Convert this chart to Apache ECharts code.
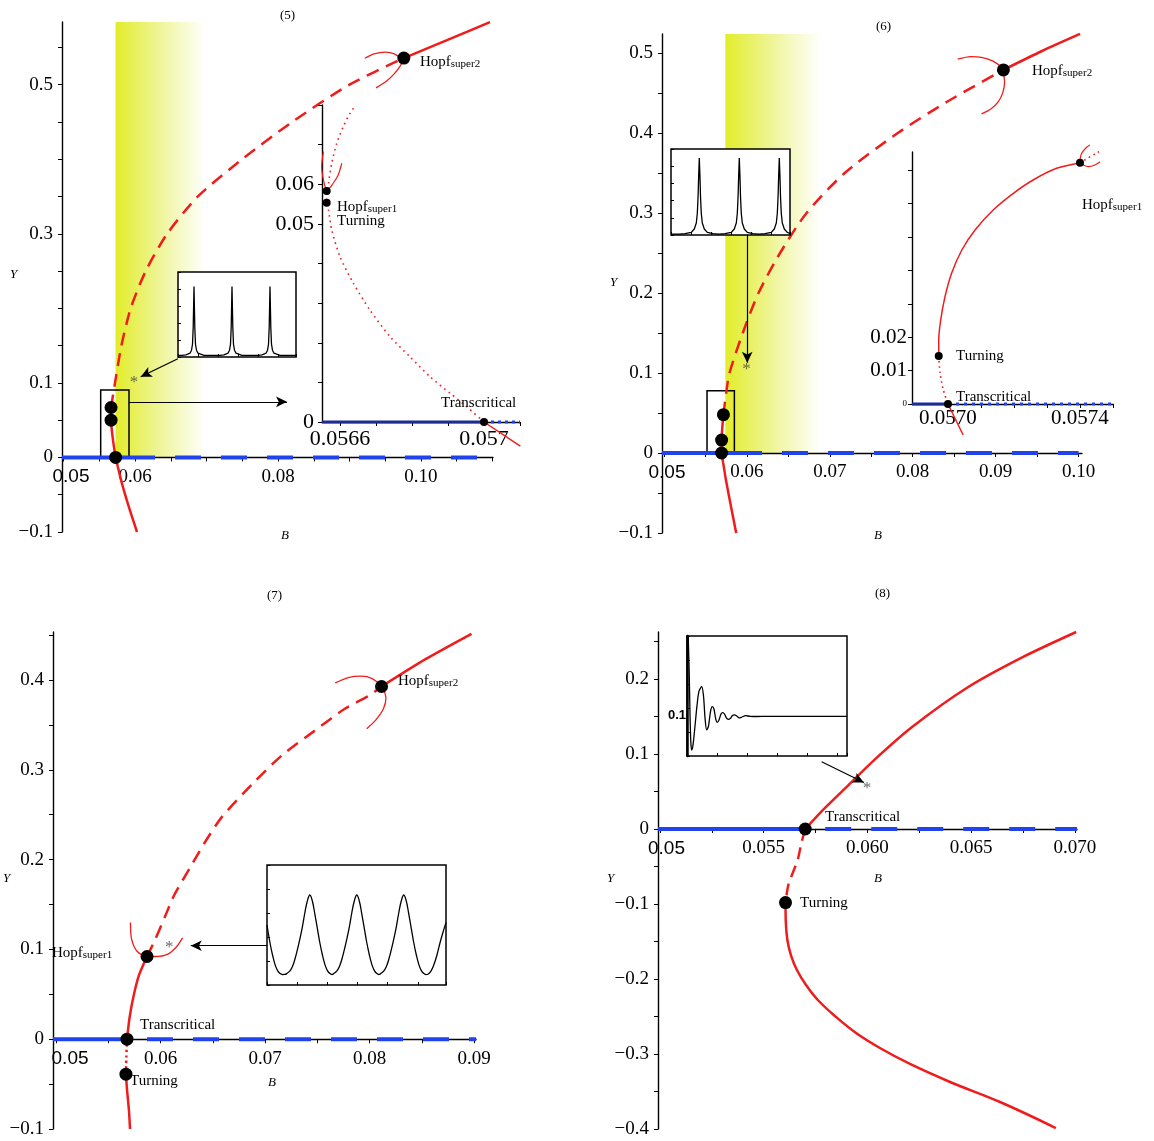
<!DOCTYPE html>
<html>
<head>
<meta charset="utf-8">
<script src="https://cdn.jsdelivr.net/npm/echarts@6/dist/echarts.min.js"></script>
<style>
html, body { margin: 0; background: #fff; }
#main { width: 1154px; height: 1141px; }
</style>
</head>
<body>
<div id="main"></div>
<script>
// ---------- panel (5) ----------
var p5TickX = [0.05, 0.055, 0.06, 0.065, 0.07, 0.075, 0.08, 0.085, 0.09, 0.095, 0.1, 0.105, 0.11];
var p5LabelX = [0.05, 0.06, 0.08, 0.1];
var p5TickY = [-0.1, -0.05, 0, 0.05, 0.1, 0.15, 0.2, 0.25, 0.3, 0.35, 0.4, 0.45, 0.5, 0.55];
var p5LabelY = [-0.1, 0, 0.1, 0.3, 0.5];
var p5Lower = [[0.05729, 0], [0.05759, -0.0121], [0.05821, -0.0361], [0.05925, -0.0698], [0.06028, -0.1]];
var p5Link = [[0.05729, 0], [0.05690, 0.025], [0.05665, 0.05], [0.05665, 0.067]];
var p5Dashed = [[0.05665, 0.067], [0.0572, 0.1], [0.0581, 0.15], [0.0594, 0.2], [0.0615, 0.25], [0.0645, 0.3],
  [0.0688, 0.35], [0.075, 0.4], [0.082, 0.45], [0.09, 0.5], [0.0976, 0.5356]];
var p5Upper = [[0.0976, 0.5356], [0.10364, 0.5597], [0.10965, 0.5839]];
var p5ArcUp = [[0.09214, 0.5354], [0.09343, 0.5412], [0.09499, 0.5436], [0.09628, 0.5412], [0.09733, 0.5341]];
var p5ArcLow = [[0.09371, 0.4956], [0.09524, 0.5052], [0.09628, 0.5148], [0.09706, 0.5244], [0.09748, 0.5342]];
var p5Points = [[0.05729, 0], [0.05665, 0.05], [0.05665, 0.067], [0.0976, 0.5356]];
var p5Band = [0.05728, 0.06986];
var p5Box = [0.0552, 0.05916, 0, 0.0905];
var p5Arrows = [[[0.05916, 0.0746], [0.08126, 0.0746]], [[0.06599, 0.1323], [0.0608, 0.1083]]];
var p5Star = [[0.05986, 0.1011]];
var p5Blue = [0.0628, 0.1084];

// zoomed inset of (5)
var i5TickX = [0.0566, 0.0567, 0.0568, 0.0569, 0.057, 0.0571];
var i5LabelX = [0.0566, 0.057];
var i5TickY = [0, 0.01, 0.02, 0.03, 0.04, 0.05, 0.06, 0.07, 0.08];
var i5LabelY = [0, 0.05, 0.06];
var i5Solid = [[0.057, 0], [0.057101, -0.0061]];
var i5Dotted = [[0.057, 0], [0.056952, 0.00386], [0.056906, 0.00724], [0.05685, 0.01143], [0.056794, 0.01648],
  [0.056739, 0.02153], [0.056683, 0.02827], [0.056637, 0.03501], [0.0566, 0.04172], [0.056577, 0.04846],
  [0.056568, 0.05351], [0.056563, 0.05535], [0.056568, 0.06025], [0.056577, 0.0653], [0.056591, 0.07034],
  [0.056609, 0.07453], [0.056628, 0.07792], [0.056644, 0.08001]];
var i5Cup = [[0.056554, 0.06822], [0.056549, 0.06444], [0.056554, 0.06108], [0.056561, 0.05873],
  [0.056565, 0.05856], [0.056581, 0.06025], [0.056595, 0.06234], [0.056605, 0.0653]];
var i5Points = [[0.057, 0], [0.056563, 0.0583], [0.056563, 0.05535]];
var i5Blue = [0.057, 0.0571];

// time series inset of (5)
var p5Wave = [[0, 0.02], [4, 0.02], [8, 0.025], [10, 0.03], [12, 0.045], [13.5, 0.08], [14.5, 0.15], [15.2, 0.35],
  [15.7, 0.65], [16, 0.83], [16.3, 0.65], [16.8, 0.35], [17.5, 0.15], [18.5, 0.08], [20, 0.045], [22, 0.03],
  [26, 0.02], [34, 0.02], [42, 0.02], [46, 0.025], [48, 0.03], [50, 0.045], [51.5, 0.08], [52.5, 0.15],
  [53.2, 0.35], [53.7, 0.65], [54, 0.83], [54.3, 0.65], [54.8, 0.35], [55.5, 0.15], [56.5, 0.08], [58, 0.045],
  [60, 0.03], [64, 0.02], [72, 0.02], [80, 0.02], [84, 0.025], [86, 0.03], [88, 0.045], [89.5, 0.08],
  [90.5, 0.15], [91.2, 0.35], [91.7, 0.65], [92, 0.83], [92.3, 0.65], [92.8, 0.35], [93.5, 0.15], [94.5, 0.08],
  [96, 0.045], [98, 0.03], [102, 0.02], [110, 0.02], [118, 0.02]];

// ---------- panel (6) ----------
var p6TickX = [0.05, 0.055, 0.06, 0.065, 0.07, 0.075, 0.08, 0.085, 0.09, 0.095, 0.1];
var p6LabelX = [0.05, 0.06, 0.07, 0.08, 0.09, 0.1];
var p6TickY = [-0.1, -0.05, 0, 0.05, 0.1, 0.15, 0.2, 0.25, 0.3, 0.35, 0.4, 0.45, 0.5];
var p6LabelY = [-0.1, 0, 0.1, 0.2, 0.3, 0.4, 0.5];
var p6Lower = [[0.05695, 0], [0.05713, -0.0118], [0.05748, -0.0341], [0.05814, -0.07], [0.05871, -0.1]];
var p6Link = [[0.05695, 0], [0.05695, 0.0161], [0.05717, 0.0479]];
var p6Dashed = [[0.05717, 0.0479], [0.0575, 0.075], [0.0579, 0.1], [0.0595, 0.15], [0.0614, 0.2], [0.064, 0.25],
  [0.0672, 0.3], [0.0718, 0.35], [0.0782, 0.4], [0.0843, 0.44], [0.09094, 0.4789]];
var p6Upper = [[0.09094, 0.4789], [0.0956, 0.5025], [0.10018, 0.5238]];
var p6ArcUp = [[0.08543, 0.4924], [0.08697, 0.4955], [0.0883, 0.4946], [0.08962, 0.4901], [0.09094, 0.4811]];
var p6ArcLow = [[0.0883, 0.4238], [0.0894, 0.4296], [0.09028, 0.4385], [0.09085, 0.4498], [0.09108, 0.4633], [0.09094, 0.4766]];
var p6Points = [[0.05695, 0], [0.05695, 0.0161], [0.05717, 0.0479], [0.09094, 0.4789]];
var p6Band = [0.0574, 0.06893];
var p6Box = [0.05519, 0.05849, 0, 0.0779];
var p6Arrows = [[[0.06004, 0.2728], [0.06004, 0.1129]]];
var p6Star = [[0.05994, 0.1039]];
var p6Blue = [0.06182, 0.1];

// zoomed inset of (6)
var i6TickX = [0.057, 0.0571, 0.0572, 0.0573, 0.0574, 0.0575];
var i6LabelX = [0.057, 0.0574];
var i6TickY = [0, 0.01, 0.02, 0.03, 0.04, 0.05, 0.06, 0.07];
var i6LabelY = [0, 0.01, 0.02];
var i6Solid = [[0.056972, 0.01437], [0.056972, 0.01916], [0.056978, 0.02515], [0.056991, 0.03213], [0.057011, 0.03913],
  [0.057042, 0.04611], [0.057082, 0.0521], [0.057137, 0.05808], [0.057198, 0.06308], [0.057258, 0.06707],
  [0.057329, 0.07057], [0.0574, 0.07225]];
var i6Dotted = [[0.056972, 0.01437], [0.056976, 0.00919], [0.056986, 0.00419], [0.057, 0]];
var i6Below = [[0.057, 0], [0.057046, -0.00928]];
var i6After = [[0.0574, 0.07225], [0.057461, 0.07575]];
var i6ArcUp = [[0.0574, 0.07305], [0.057405, 0.07506], [0.05742, 0.07686], [0.05743, 0.07754]];
var i6ArcLow = [[0.057405, 0.07186], [0.057425, 0.07105], [0.057445, 0.07156], [0.057461, 0.07254]];
var i6Points = [[0.057, 0], [0.056972, 0.01437], [0.0574, 0.07225]];
var i6Blue = [0.057, 0.0575];

// time series inset of (6)
var p6Wave = [[0, 0.01], [8, 0.01], [14, 0.015], [20.3, 0.03], [23.3, 0.07], [25.3, 0.14], [26.3, 0.25], [27.1, 0.45],
  [27.7, 0.7], [28.3, 0.895], [28.9, 0.7], [29.5, 0.45], [30.3, 0.25], [31.3, 0.14], [33.3, 0.07], [36.3, 0.03],
  [42, 0.015], [48, 0.01], [54, 0.015], [60.3, 0.03], [63.3, 0.07], [65.3, 0.14], [66.3, 0.25], [67.1, 0.45],
  [67.7, 0.7], [68.3, 0.895], [68.9, 0.7], [69.5, 0.45], [70.3, 0.25], [71.3, 0.14], [73.3, 0.07], [76.3, 0.03],
  [82, 0.015], [88, 0.01], [94, 0.015], [100.3, 0.03], [103.3, 0.07], [105.3, 0.14], [106.3, 0.25], [107.1, 0.45],
  [107.7, 0.7], [108.3, 0.895], [108.9, 0.7], [109.5, 0.45], [110.3, 0.25], [111.3, 0.14], [113.3, 0.07],
  [116.3, 0.03], [119, 0.02]];

// ---------- panel (7) ----------
var p7TickX = [0.05, 0.055, 0.06, 0.065, 0.07, 0.075, 0.08, 0.085, 0.09];
var p7LabelX = [0.05, 0.06, 0.07, 0.08, 0.09];
var p7TickY = [-0.1, -0.05, 0, 0.05, 0.1, 0.15, 0.2, 0.25, 0.3, 0.35, 0.4, 0.45];
var p7LabelY = [-0.1, 0, 0.1, 0.2, 0.3, 0.4];
var p7Lower = [[0.05669, -0.0389], [0.05679, -0.0557], [0.05698, -0.0797], [0.05708, -0.1]];
var p7Dotted = [[0.05669, -0.0389], [0.05673, -0.0197], [0.05679, 0]];
var p7Solid = [[0.05679, 0], [0.05704, 0.0242], [0.0574, 0.047], [0.05793, 0.071], [0.05871, 0.0921]];
var p7Dashed = [[0.05871, 0.0921], [0.05953, 0.1121], [0.06041, 0.136], [0.06129, 0.16], [0.06307, 0.1959],
  [0.06449, 0.2238], [0.0659, 0.2479], [0.06875, 0.2838], [0.07158, 0.3158], [0.07477, 0.3437],
  [0.0776, 0.3677], [0.08009, 0.3836], [0.08115, 0.3928]];
var p7Upper = [[0.08115, 0.3928], [0.0854, 0.4235], [0.08976, 0.4515]];
var p7ArcUp = [[0.07672, 0.3968], [0.07796, 0.4028], [0.0792, 0.4043], [0.08026, 0.4016], [0.08115, 0.3937]];
var p7ArcLow = [[0.07973, 0.3457], [0.08061, 0.3557], [0.08132, 0.3677], [0.08157, 0.3796], [0.08132, 0.3916]];
var p7Cup = [[0.05712, 0.13], [0.05722, 0.1121], [0.05775, 0.098], [0.05864, 0.0921], [0.05953, 0.0921],
  [0.06059, 0.0941], [0.06147, 0.1021], [0.06211, 0.1129]];
var p7Points = [[0.05679, 0], [0.05669, -0.0389], [0.05871, 0.0921], [0.08115, 0.3928]];
var p7Arrows = [[[0.07023, 0.1041], [0.06289, 0.1041]]];
var p7Star = [[0.06084, 0.1021]];
var p7Blue = [0.05679, 0.0902];

// time series inset of (7)
var p7Wave = [[0, 0.5], [3, 0.35], [5.5, 0.25], [8, 0.17], [10.5, 0.12], [13, 0.095], [15.5, 0.087],
  [17.6, 0.088], [19.6, 0.095], [22.6, 0.115], [25.1, 0.15], [27.6, 0.21], [30.1, 0.29], [32.6, 0.38],
  [35.1, 0.48], [37.6, 0.6], [40.1, 0.7], [42.6, 0.75], [45.1, 0.7], [47.6, 0.59], [50.1, 0.47], [52.6, 0.35],
  [55.1, 0.25], [57.6, 0.17], [60.1, 0.12], [62.6, 0.095], [64.6, 0.087], [66.3, 0.095], [69.3, 0.115],
  [71.8, 0.15], [74.3, 0.21], [76.8, 0.29], [79.3, 0.38], [81.8, 0.48], [84.3, 0.6], [86.8, 0.7], [89.3, 0.75],
  [91.8, 0.7], [94.3, 0.59], [96.8, 0.47], [99.3, 0.35], [101.8, 0.25], [104.3, 0.17], [106.8, 0.12],
  [109.3, 0.095], [111.3, 0.087], [113, 0.095], [116, 0.115], [118.5, 0.15], [121, 0.21], [123.5, 0.29],
  [126, 0.38], [128.5, 0.48], [131, 0.6], [133.5, 0.7], [136, 0.75], [138.5, 0.7], [141, 0.59], [143.5, 0.47],
  [146, 0.35], [148.5, 0.25], [151, 0.17], [153.5, 0.12], [156, 0.095], [158, 0.087], [160, 0.09],
  [163, 0.115], [166, 0.17], [169, 0.25], [172, 0.35], [175, 0.44], [178, 0.52]];

// ---------- panel (8) ----------
var p8TickX = [0.05, 0.0525, 0.055, 0.0575, 0.06, 0.0625, 0.065, 0.0675, 0.07];
var p8LabelX = [0.05, 0.055, 0.06, 0.065, 0.07];
var p8TickY = [-0.4, -0.35, -0.3, -0.25, -0.2, -0.15, -0.1, -0.05, 0, 0.05, 0.1, 0.15, 0.2, 0.25];
var p8LabelY = [-0.4, -0.3, -0.2, -0.1, 0, 0.1, 0.2];
var p8Upper = [[0.057, 0], [0.05771, 0.0213], [0.05895, 0.0548], [0.06037, 0.0931], [0.06215, 0.136],
  [0.06482, 0.1887], [0.06748, 0.2292], [0.07006, 0.2627]];
var p8Dashed = [[0.057, 0], [0.05681, -0.0192], [0.05664, -0.0408], [0.05619, -0.0743], [0.05605, -0.0981]];
var p8Lower = [[0.05605, -0.0981], [0.05606, -0.1213], [0.05614, -0.148], [0.05631, -0.168], [0.0566, -0.188],
  [0.05704, -0.208], [0.05761, -0.228], [0.05843, -0.2493], [0.05945, -0.272], [0.0606, -0.292],
  [0.06205, -0.3133], [0.06398, -0.3373], [0.06639, -0.364], [0.06908, -0.3987]];
var p8Points = [[0.057, 0], [0.05605, -0.0981]];
var p8Arrows = [[[0.05779, 0.0897], [0.05983, 0.062]]];
var p8Star = [[0.05998, 0.0539]];
var p8Blue = [0.057, 0.0701];

// time series inset of (8)
var p8Wave = [[1.2, 1.0], [2.2, 0.7], [3, 0.35], [3.8, 0.12], [4.7, 0.05], [6, 0.09], [8, 0.25], [10, 0.42],
  [12, 0.54], [14.7, 0.578], [16.5, 0.5], [18, 0.32], [19.7, 0.217], [21.5, 0.25], [23.5, 0.37], [25.3, 0.411],
  [27, 0.39], [28.7, 0.31], [30.3, 0.281], [32, 0.3], [34, 0.35], [35.7, 0.361], [37.5, 0.35], [39.5, 0.315],
  [41.3, 0.306], [43.5, 0.315], [45.5, 0.337], [47.3, 0.342], [49.5, 0.335], [52.3, 0.317], [55, 0.325],
  [58.7, 0.336], [63, 0.331], [70, 0.329], [80, 0.33], [100, 0.33], [130, 0.33], [160, 0.33]];

var SERIF = '"Liberation Serif", "Times New Roman", serif';
var SANS = '"Liberation Sans", Arial, sans-serif';
var RED = '#f01c1c';
var BLUE = '#2143ec';
var NAVY = '#1d2b94';
var TICK_FONT = 19;

var grids = [], xAxes = [], yAxes = [], series = [], titles = [];

function yFmt(v) {
  if (v === 0) return '0';
  return v < 0 ? '\u2212' + Math.abs(v) : String(v);
}

function axis(min, max, ticks, labels, fmt, size, margin, rich, offset) {
  return {
    type: 'value', min: min, max: max, z: 2, offset: offset || 0,
    axisLine: { show: true, onZero: false, lineStyle: { color: '#000', width: 1.4 } },
    axisTick: { show: true, customValues: ticks, length: 4, lineStyle: { color: '#000', width: 1 } },
    axisLabel: { show: true, customValues: labels, formatter: fmt, color: '#000', fontFamily: SERIF,
      fontSize: size, margin: margin, rich: rich || {}, hideOverlap: false },
    splitLine: { show: false }
  };
}

function addGrid(box, x, y) {
  var i = grids.length;
  grids.push(Object.assign({ containLabel: false, outerBoundsMode: 'none' }, box));
  x.gridIndex = i; y.gridIndex = i;
  xAxes.push(x); yAxes.push(y);
  return i;
}

// x axis drawn through Y = 0 (with its labels) by shifting it up from the grid bottom
function zeroOffset(box, ymin, ymax) {
  return -box.height * (0 - ymin) / (ymax - ymin);
}

function line(g, data, color, width, type, extra) {
  return Object.assign({
    type: 'line', xAxisIndex: g, yAxisIndex: g, data: data, symbol: 'none', smooth: 0.25,
    clip: false, silent: true, z: 3, lineStyle: { color: color, width: width, type: type }
  }, extra || {});
}

function points(g, data, size) {
  return { type: 'scatter', xAxisIndex: g, yAxisIndex: g, data: data, symbolSize: size, silent: true, z: 5,
    clip: false, itemStyle: { color: '#000', opacity: 1 } };
}

function star(g, data) {
  return { type: 'scatter', xAxisIndex: g, yAxisIndex: g, data: data, symbolSize: 1, silent: true, z: 5,
    itemStyle: { color: 'rgba(0,0,0,0)' },
    label: { show: true, position: 'inside', formatter: '*', color: '#444', fontSize: 17, fontFamily: SERIF } };
}

function arrows(g, list) {
  return { type: 'line', xAxisIndex: g, yAxisIndex: g, data: [], silent: true, z: 4,
    markLine: { silent: true, animation: false, symbol: ['none', 'arrow'], symbolSize: 10,
      lineStyle: { color: '#000', width: 1.2, type: 'solid', opacity: 1 }, itemStyle: { color: '#000' },
      label: { show: false },
      data: list.map(function (a) {
        return [{ coord: a[0], symbol: 'none' }, { coord: a[1], symbol: 'arrow', symbolSize: [8, 11] }];
      }) } };
}

function areas(g, band, box, yTop) {
  var d = [];
  if (band) {
    d.push([{ coord: [band[0], 0], itemStyle: { color: { type: 'linear', x: 0, y: 0, x2: 1, y2: 0,
      colorStops: [{ offset: 0, color: '#e2ed2a' }, { offset: 0.5, color: '#eff59a' }, { offset: 1, color: '#ffffff' }] } } },
      { coord: [band[1], yTop] }]);
  }
  if (box) {
    d.push([{ coord: [box[0], box[2]], itemStyle: { color: 'rgba(0,0,0,0)', borderColor: '#000', borderWidth: 1.5 } },
      { coord: [box[1], box[3]] }]);
  }
  return { type: 'line', xAxisIndex: g, yAxisIndex: g, data: [], silent: true, z: 1,
    markArea: { silent: true, animation: false, label: { show: false }, data: d } };
}

function blue(g, xmin, solidEnd, end, offset) {
  series.push(line(g, [[xmin, 0], [solidEnd, 0]], BLUE, 4, 'solid', { smooth: false, z: 3 }));
  series.push(line(g, [[solidEnd, 0], [end, 0]], BLUE, 4, [26, 20], { smooth: false, z: 3,
    lineStyle: { color: BLUE, width: 4, type: [26, 20], dashOffset: offset } }));
}

function waveGrid(box, tMax, data, smooth, leftWidth) {
  var g = addGrid(Object.assign({ show: true, backgroundColor: '#fff', borderColor: '#000', borderWidth: 1.5, z: 5 }, box),
    { type: 'value', min: 0, max: tMax, z: 6, axisLine: { show: false },
      axisTick: { show: true, inside: true, length: 3, lineStyle: { color: '#000' } },
      axisLabel: { show: false }, splitLine: { show: false }, splitNumber: 5 },
    { type: 'value', min: 0, max: 1, z: 6,
      axisLine: { show: !!leftWidth, lineStyle: { color: '#000', width: leftWidth || 1 } },
      axisTick: { show: true, inside: true, length: 3, lineStyle: { color: '#000' } },
      axisLabel: { show: false }, splitLine: { show: false }, splitNumber: 5 });
  series.push(line(g, data, '#000', 1.3, 'solid', { smooth: smooth, z: 7, clip: true }));
  return g;
}

var sansFirst = function (pad) {
  return { s: { fontFamily: SANS, fontSize: TICK_FONT, color: '#000', padding: [0, 0, 0, pad] } };
};

function mainGrid(box, xr, yr, tickX, labelX, fmtX, pad, tickY, labelY) {
  return addGrid(box,
    axis(xr[0], xr[1], tickX, labelX, fmtX, TICK_FONT, 10, sansFirst(pad), zeroOffset(box, yr[0], yr[1])),
    axis(yr[0], yr[1], tickY, labelY, yFmt, TICK_FONT, 9));
}
function fmt2(v) { return v === 0.05 ? '{s|0.05}' : v.toFixed(2); }

// ----- panel 5 -----
var g5 = mainGrid({ left: 62, top: 22, width: 431, height: 510 }, [0.04979, 0.11007], [-0.1, 0.584],
  p5TickX, p5LabelX, fmt2, 15, p5TickY, p5LabelY);
series.push(areas(g5, p5Band, p5Box, 0.584));
blue(g5, 0.04979, p5Blue[0], p5Blue[1], 26);
series.push(line(g5, p5Lower, RED, 2.5, 'solid'));
series.push(line(g5, p5Link, RED, 2.5, 'solid'));
series.push(line(g5, p5Dashed, RED, 2.5, [13, 8]));
series.push(line(g5, p5Upper, RED, 2.5, 'solid'));
series.push(line(g5, p5ArcUp, RED, 1.3, 'solid'));
series.push(line(g5, p5ArcLow, RED, 1.3, 'solid'));
series.push(points(g5, p5Points, 13));
series.push(arrows(g5, p5Arrows));
series.push(star(g5, p5Star));

var gi5 = addGrid({ left: 322, top: 105, width: 198, height: 317 },
  axis(0.05655, 0.0571, i5TickX, i5LabelX, function (v) { return String(v); }, 22, 6),
  axis(0, 0.08, i5TickY, i5LabelY, function (v) { return v === 0 ? '0' : v.toFixed(2); }, 22, 8));
series.push(line(gi5, [[0.05655, 0], [i5Blue[0], 0]], NAVY, 3, 'solid', { smooth: false }));
series.push(line(gi5, [[i5Blue[0], 0], [i5Blue[1], 0]], BLUE, 3, [3, 4], { smooth: false }));
series.push(line(gi5, i5Dotted, RED, 1.6, [1.6, 4]));
series.push(line(gi5, i5Solid, RED, 1.5, 'solid'));
series.push(line(gi5, i5Cup, RED, 1.2, 'solid'));
series.push(points(gi5, i5Points, 8));

waveGrid({ left: 178, top: 272, width: 118, height: 85 }, 118, p5Wave, false);

// ----- panel 6 -----
var g6 = mainGrid({ left: 662, top: 34, width: 420, height: 499 }, [0.04976, 0.10042], [-0.1, 0.52375],
  p6TickX, p6LabelX, fmt2, 6, p6TickY, p6LabelY);
series.push(areas(g6, p6Band, p6Box, 0.52375));
blue(g6, 0.04976, p6Blue[0], p6Blue[1], 26);
series.push(line(g6, p6Lower, RED, 2.5, 'solid'));
series.push(line(g6, p6Link, RED, 2.5, 'solid'));
series.push(line(g6, p6Dashed, RED, 2.5, [13, 8]));
series.push(line(g6, p6Upper, RED, 2.5, 'solid'));
series.push(line(g6, p6ArcUp, RED, 1.3, 'solid'));
series.push(line(g6, p6ArcLow, RED, 1.3, 'solid'));
series.push(points(g6, p6Points, 13));
series.push(arrows(g6, p6Arrows));
series.push(star(g6, p6Star));

var gi6 = addGrid({ left: 912, top: 152, width: 201, height: 252 },
  axis(0.056891, 0.0575, i6TickX, i6LabelX, function (v) { return v.toFixed(4); }, 21, 4),
  axis(0, 0.07545, i6TickY, i6LabelY, function (v) { return v === 0 ? '{t|0}' : v.toFixed(2); }, 21, 5,
    { t: { fontFamily: SERIF, fontSize: 9, color: '#000' } }));
series.push(line(gi6, [[0.056891, 0], [i6Blue[0], 0]], NAVY, 3, 'solid', { smooth: false }));
series.push(line(gi6, [[i6Blue[0], 0], [i6Blue[1], 0]], BLUE, 3, [3, 5], { smooth: false }));
series.push(line(gi6, i6Solid, RED, 1.5, 'solid'));
series.push(line(gi6, i6Dotted, RED, 1.6, [1.6, 3.5]));
series.push(line(gi6, i6Below, RED, 1.5, 'solid'));
series.push(line(gi6, i6After, RED, 1.6, [1.6, 3.5]));
series.push(line(gi6, i6ArcUp, RED, 1.2, 'solid'));
series.push(line(gi6, i6ArcLow, RED, 1.2, 'solid'));
series.push(points(gi6, i6Points, 8));

waveGrid({ left: 671, top: 149, width: 119, height: 86 }, 119, p6Wave, false);

// ----- panel 7 -----
var g7 = mainGrid({ left: 53, top: 632, width: 423, height: 497 }, [0.04971, 0.09019], [-0.1, 0.4535],
  p7TickX, p7LabelX, fmt2, 28, p7TickY, p7LabelY);
blue(g7, 0.04971, p7Blue[0], p7Blue[1], 26);
series.push(line(g7, p7Lower, RED, 2.5, 'solid'));
series.push(line(g7, p7Dotted, RED, 2.5, [2.5, 3]));
series.push(line(g7, p7Solid, RED, 2.5, 'solid'));
series.push(line(g7, p7Dashed, RED, 2.5, [13, 8]));
series.push(line(g7, p7Upper, RED, 2.5, 'solid'));
series.push(line(g7, p7ArcUp, RED, 1.3, 'solid'));
series.push(line(g7, p7ArcLow, RED, 1.3, 'solid'));
series.push(line(g7, p7Cup, RED, 1.3, 'solid'));
series.push(points(g7, p7Points, 13));
series.push(arrows(g7, p7Arrows));
series.push(star(g7, p7Star));

waveGrid({ left: 267, top: 865, width: 179, height: 120 }, 178, p7Wave, 0.4);

// ----- panel 8 -----
var g8 = mainGrid({ left: 658, top: 632, width: 419, height: 497 }, [0.049904, 0.0701], [-0.4, 0.2627],
  p8TickX, p8LabelX, function (v) { return v === 0.05 ? '{s|0.05}' : v.toFixed(3); }, 13, p8TickY, p8LabelY);
blue(g8, 0.049904, p8Blue[0], p8Blue[1], 26);
series.push(line(g8, p8Upper, RED, 2.5, 'solid'));
series.push(line(g8, p8Dashed, RED, 2.5, [12, 7]));
series.push(line(g8, p8Lower, RED, 2.5, 'solid', { smooth: 0.4 }));
series.push(points(g8, p8Points, 13));
series.push(arrows(g8, p8Arrows));
series.push(star(g8, p8Star));

waveGrid({ left: 687, top: 636, width: 160, height: 120 }, 160, p8Wave, 0.3, 2.5);

// ----- texts -----
var hopfRich = {
  h: { fontFamily: SERIF, fontSize: 15, lineHeight: 15, color: '#000', verticalAlign: 'top' },
  s: { fontFamily: SERIF, fontSize: 11, lineHeight: 11, color: '#000', padding: [8, 0, 0, 0], verticalAlign: 'bottom' }
};
function txt(text, left, top, size, style) {
  titles.push({ text: text, left: left, top: top, padding: 0, z: 20,
    textStyle: Object.assign({ fontFamily: SERIF, fontSize: size, fontWeight: 'normal', color: '#000', rich: hopfRich }, style || {}) });
}
txt('(5)', 280, 9, 13); txt('(6)', 876, 20, 13); txt('(7)', 267, 589, 13); txt('(8)', 875, 587, 13);
var ital = { fontStyle: 'italic' };
txt('Y', 10, 268, 13, ital); txt('B', 281, 529, 13, ital);
txt('Y', 610, 276, 13, ital); txt('B', 874, 529, 13, ital);
txt('Y', 3, 872, 13, ital); txt('B', 268, 1076, 13, ital);
txt('Y', 607, 872, 13, ital); txt('B', 874, 872, 13, ital);

txt('{h|Hopf}{s|super2}', 420, 55, 15);
txt('{h|Hopf}{s|super1}', 337, 200, 15);
txt('Turning', 337, 214, 15);
txt('Transcritical', 441, 396, 15);

txt('{h|Hopf}{s|super2}', 1032, 64, 15);
txt('{h|Hopf}{s|super1}', 1082, 198, 15);
txt('Turning', 956, 349, 15);
txt('Transcritical', 956, 390, 15);

txt('{h|Hopf}{s|super2}', 398, 674, 15);
txt('{h|Hopf}{s|super1}', 52, 946, 15);
txt('Transcritical', 140, 1018, 15);
txt('Turning', 130, 1074, 15);

txt('Transcritical', 825, 810, 15);
txt('Turning', 800, 896, 15);
txt('0.1', 668, 709, 13, { fontFamily: SANS, fontWeight: 'bold' });

var chart = echarts.init(document.getElementById('main'), null, { renderer: 'canvas' });
chart.setOption({
  animation: false,
  backgroundColor: '#fff',
  title: titles,
  grid: grids,
  xAxis: xAxes,
  yAxis: yAxes,
  series: series
});
</script>
</body>
</html>
